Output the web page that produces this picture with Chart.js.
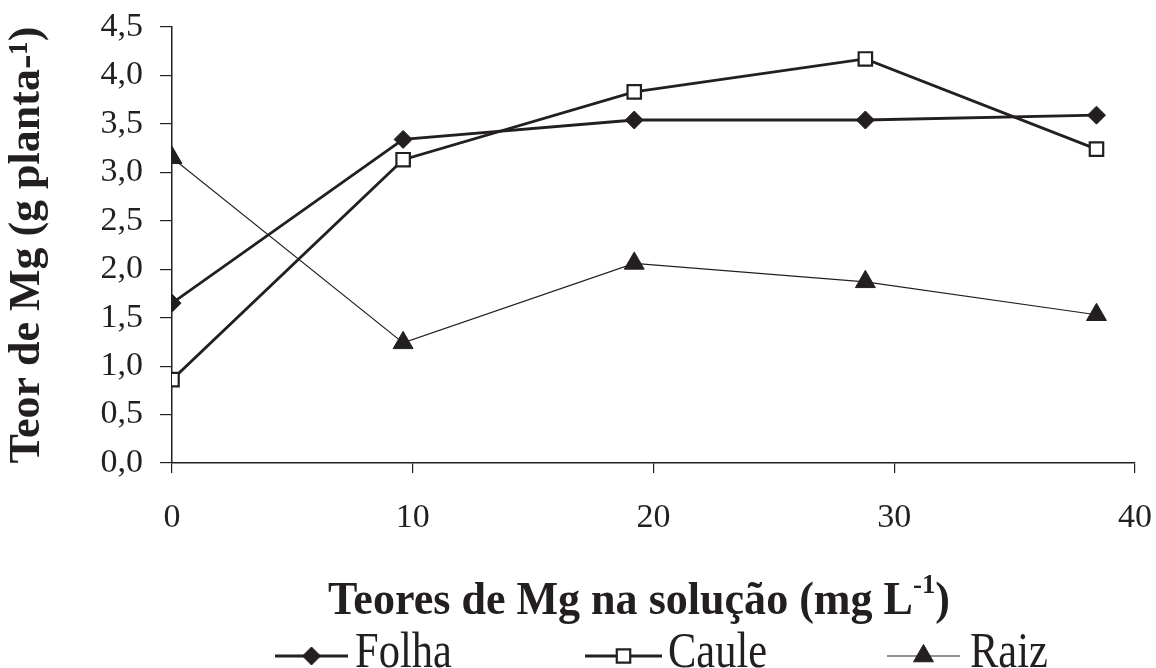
<!DOCTYPE html>
<html>
<head>
<meta charset="utf-8">
<script src="https://cdn.jsdelivr.net/npm/chart.js@4.4.1/dist/chart.umd.min.js"></script>
<style>
  html, body { margin: 0; padding: 0; background: #fff; }
  #wrap { width: 1156px; height: 668px; }
</style>
</head>
<body>
<div id="wrap"><canvas id="c" width="1156" height="668"></canvas></div>
<script>
// Teores de Mg na solução (mg L-1)
const doses = [0, 9.6, 19.2, 28.8, 38.4];
const folha = [1.65, 3.34, 3.54, 3.54, 3.59];
const caule = [0.86, 3.13, 3.83, 4.17, 3.24];
const raiz = [3.15, 1.24, 2.06, 1.87, 1.53];
const xTicks = [0, 10, 20, 30, 40];
const yTicks = [0, 0.5, 1, 1.5, 2, 2.5, 3, 3.5, 4, 4.5];

const INK = '#231f20';
const SERIF = '"Liberation Serif", "Times New Roman", serif';

const pts = arr => arr.map((v, i) => ({ x: doses[i], y: v }));

function marker(ctx, style, cx, cy, r) {
    ctx.beginPath();
    if (style === 'rectRot') {
        ctx.moveTo(cx - r, cy); ctx.lineTo(cx, cy - r); ctx.lineTo(cx + r, cy); ctx.lineTo(cx, cy + r);
    } else if (style === 'rect') {
        const s = r * Math.SQRT1_2;
        ctx.rect(cx - s, cy - s, 2 * s, 2 * s);
    } else {
        const k = Math.sin(2 * Math.PI / 3) * r;
        ctx.moveTo(cx, cy - r); ctx.lineTo(cx + k, cy + r / 2); ctx.lineTo(cx - k, cy + r / 2);
    }
    ctx.closePath();
}

// x title with superscript + excel-like legend, drawn below the axis
const bottomText = {
    id: 'bottomText',
    afterDraw(chart) {
        const ctx = chart.ctx;
        ctx.save();
        ctx.fillStyle = INK;
        ctx.textBaseline = 'alphabetic';

        const text = (s, px, py, font, sx) => {
            ctx.save();
            ctx.font = font;
            ctx.translate(px, py);
            ctx.scale(sx, 1);
            ctx.fillText(s, 0, 0);
            ctx.restore();
        };

        // axis title, squeezed to the width it has in the figure
        const big = 'bold 46px ' + SERIF, small = 'bold 28px ' + SERIF;
        const main = 'Teores de Mg na solução (mg L';
        ctx.font = big;
        const w1 = ctx.measureText(main).width, w3 = ctx.measureText(')').width;
        ctx.font = small;
        const w2 = ctx.measureText('-1').width;
        const sx = 622 / (w1 + w2 + w3);
        let x = 639 - 311;
        const base = 614;
        text(main, x, base, big, sx);
        x += w1 * sx;
        text('-1', x, base - 21, small, sx);
        x += w2 * sx;
        text(')', x, base, big, sx);

        // legend
        const ly = 656;
        const items = [
            { label: 'Folha', x0: 275, x1: 348, tx: 355, ds: 0 },
            { label: 'Caule', x0: 585, x1: 662, tx: 668, ds: 1 },
            { label: 'Raiz', x0: 887, x1: 960, tx: 970, ds: 2 }
        ];
        items.forEach(it => {
            const d = chart.data.datasets[it.ds];
            ctx.strokeStyle = INK;
            ctx.lineWidth = d.borderWidth;
            ctx.beginPath();
            ctx.moveTo(it.x0, ly);
            ctx.lineTo(it.x1, ly);
            ctx.stroke();
            ctx.fillStyle = d.pointBackgroundColor;
            ctx.lineWidth = d.pointBorderWidth;
            marker(ctx, d.pointStyle, (it.x0 + it.x1) / 2, ly, d.pointRadius);
            ctx.fill();
            ctx.stroke();
            ctx.fillStyle = INK;
            text(it.label, it.tx, 667, '50px ' + SERIF, 0.85);
        });
        ctx.restore();
    }
};

new Chart(document.getElementById('c'), {
    type: 'line',
    data: {
        datasets: [
            {
                label: 'Folha',
                data: pts(folha),
                borderColor: INK,
                borderWidth: 2.8,
                pointStyle: 'rectRot',
                pointRadius: 9,
                pointBackgroundColor: INK,
                pointBorderColor: INK,
                pointBorderWidth: 1
            },
            {
                label: 'Caule',
                data: pts(caule),
                borderColor: INK,
                borderWidth: 2.8,
                pointStyle: 'rect',
                pointRadius: 9.5,
                pointBackgroundColor: '#ffffff',
                pointBorderColor: INK,
                pointBorderWidth: 2.2
            },
            {
                label: 'Raiz',
                data: pts(raiz),
                borderColor: INK,
                borderWidth: 1.2,
                pointStyle: 'triangle',
                pointRadius: 11.5,
                pointBackgroundColor: INK,
                pointBorderColor: INK,
                pointBorderWidth: 1
            }
        ]
    },
    options: {
        responsive: false,
        animation: false,
        layout: { padding: { top: 27, right: 21, left: 0, bottom: 0 } },
        plugins: { legend: { display: false }, tooltip: { enabled: false } },
        scales: {
            x: {
                type: 'linear',
                min: 0,
                max: 40,
                afterBuildTicks: s => { s.ticks = xTicks.map(v => ({ value: v })); },
                afterFit: s => { s.height = 205; s.paddingLeft = 0; s.paddingRight = 0; },
                border: { display: true, color: INK, width: 1.5 },
                grid: { drawOnChartArea: false, drawTicks: true, tickLength: 10, color: INK, lineWidth: 1.2 },
                ticks: { color: INK, font: { family: SERIF, size: 34 }, padding: 25, maxRotation: 0 }
            },
            y: {
                min: 0,
                max: 4.5,
                afterBuildTicks: s => { s.ticks = yTicks.map(v => ({ value: v })); },
                afterFit: s => { s.width = 172; s.paddingTop = 0; s.paddingBottom = 0; },
                border: { display: true, color: INK, width: 1.5 },
                grid: { drawOnChartArea: false, drawTicks: true, tickLength: 12, color: INK, lineWidth: 1.2 },
                ticks: {
                    color: INK,
                    font: { family: SERIF, size: 34 },
                    padding: 17,
                    callback: v => v.toFixed(1).replace('.', ',')
                },
                title: {
                    display: true,
                    text: 'Teor de Mg (g planta-¹)',
                    color: INK,
                    font: { family: SERIF, size: 44, weight: 'bold', lineHeight: 1 },
                    padding: { top: 6, bottom: 0 }
                }
            }
        }
    },
    plugins: [bottomText]
});
</script>
</body>
</html>
